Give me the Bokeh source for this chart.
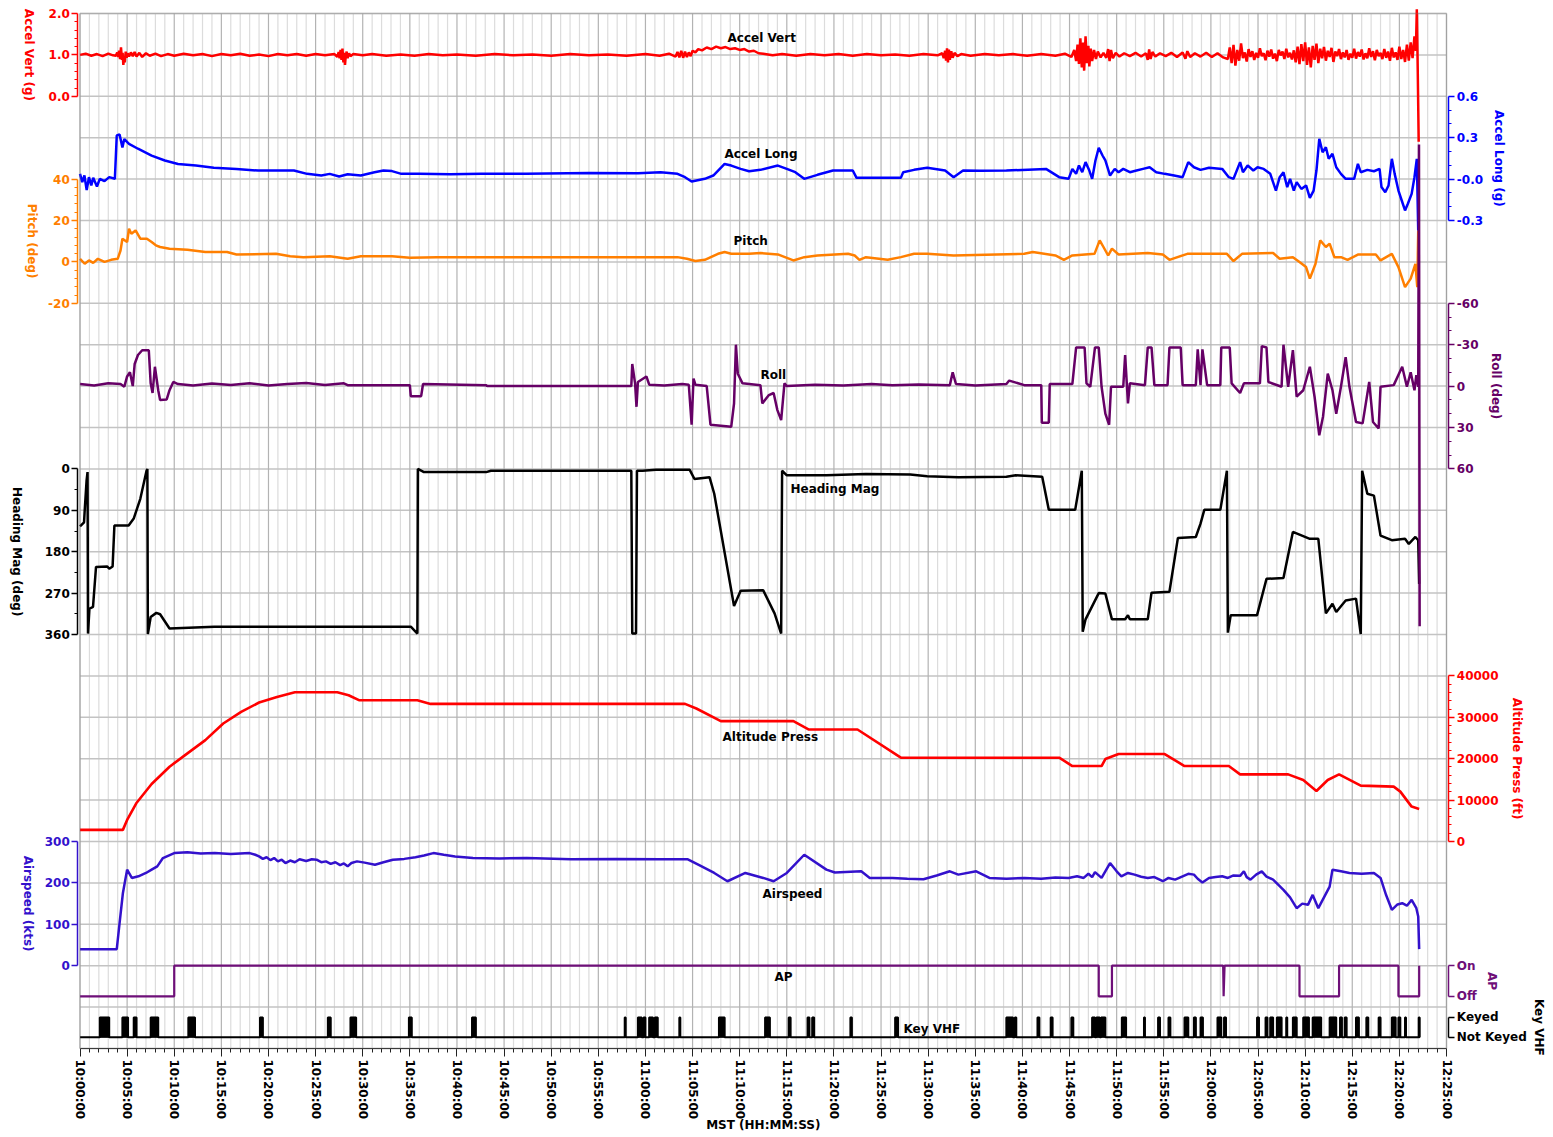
import math
from bokeh.plotting import figure
from bokeh.models import Range1d, LinearAxis, FixedTicker, Grid, Label, BoxAnnotation
from bokeh.embed import file_html
from bokeh.resources import INLINE

# ---------------- data (time in minutes after 10:00:00 MST) ----------------
TIME_TICK_LABELS = ["10:00:00", "10:05:00", "10:10:00", "10:15:00", "10:20:00", "10:25:00",
                    "10:30:00", "10:35:00", "10:40:00", "10:45:00", "10:50:00", "10:55:00",
                    "11:00:00", "11:05:00", "11:10:00", "11:15:00", "11:20:00", "11:25:00",
                    "11:30:00", "11:35:00", "11:40:00", "11:45:00", "11:50:00", "11:55:00",
                    "12:00:00", "12:05:00", "12:10:00", "12:15:00", "12:20:00", "12:25:00"]

ACCEL_VERT = [(0, 1.00), (0.6, 1.03), (1.2, 0.98), (1.8, 1.02), (2.4, 0.97), (3.0, 1.03), (3.5, 0.99), (3.8, 0.98),
              (3.95, 1.06), (4.05, 0.95), (4.15, 1.10), (4.25, 0.90), (4.35, 1.18), (4.45, 0.88), (4.52, 1.05),
              (4.6, 0.76), (4.68, 0.95), (4.75, 0.82), (4.85, 1.08), (4.95, 0.93), (5.05, 1.04), (5.2, 0.96),
              (5.4, 1.06), (5.6, 0.97), (5.8, 1.07), (6.0, 0.96), (6.3, 1.05), (6.6, 0.95), (7.0, 1.04), (7.4, 0.98),
              (8.0, 1.03), (8.6, 0.97), (9.3, 1.02), (10, 0.98), (11, 1.03), (12, 0.99), (13, 1.02), (14, 0.97),
              (15, 1.02), (16, 0.99), (17, 1.03), (18, 0.98), (19, 1.01), (20, 0.97), (21, 1.02), (22, 0.99),
              (23, 1.02), (24, 0.98), (25, 1.02), (26, 0.99), (27.0, 1.02), (27.3, 0.95), (27.45, 1.07),
              (27.55, 0.92), (27.65, 1.12), (27.75, 0.88), (27.85, 1.15), (27.95, 0.82), (28.05, 1.05),
              (28.12, 0.76), (28.2, 0.98), (28.3, 1.08), (28.4, 0.92), (28.55, 1.04), (28.7, 0.97), (29.0, 1.02),
              (30, 0.99), (31, 1.02), (32.5, 0.98), (34, 1.01), (35.5, 0.98), (37, 1.02), (38.5, 0.99), (40, 1.01),
              (42, 0.98), (44, 1.02), (46, 0.99), (48, 1.01), (50, 0.98), (52, 1.02), (54, 0.99), (56, 1.01),
              (58, 0.98), (60, 1.02), (61.5, 0.98), (62.5, 1.03), (63.2, 0.96), (63.4, 1.07), (63.6, 0.94),
              (63.8, 1.10), (64.0, 0.93), (64.2, 1.08), (64.4, 0.95), (64.6, 1.06), (64.8, 0.97), (65.0, 1.10),
              (65.3, 1.06), (65.6, 1.14), (66.0, 1.11), (66.5, 1.18), (67.0, 1.14), (67.5, 1.20), (68.0, 1.16),
              (68.5, 1.19), (69.0, 1.14), (69.5, 1.16), (70.0, 1.12), (70.5, 1.14), (71.0, 1.08), (71.5, 1.10),
              (72.0, 1.04), (72.5, 1.03), (73.5, 0.99), (74.5, 1.02), (76, 0.98), (77.5, 1.02), (79, 0.99),
              (80.5, 1.02), (82, 0.98), (83.5, 1.02), (85, 0.99), (86.5, 1.01), (88, 0.98), (89.5, 1.02), (91, 0.99),
              (91.5, 1.04), (91.65, 0.92), (91.8, 1.10), (91.9, 0.86), (92.0, 1.16), (92.1, 0.82), (92.2, 1.13),
              (92.3, 0.88), (92.45, 1.09), (92.6, 0.93), (92.8, 1.05), (93.1, 0.97), (93.5, 1.02), (94.5, 0.98),
              (96, 1.02), (97.5, 0.99), (99, 1.02), (100.5, 0.98), (102, 1.02), (103.5, 0.98), (104.5, 1.03),
              (105.2, 0.95), (105.5, 1.12), (105.7, 0.85), (105.85, 1.25), (106.0, 0.78), (106.15, 1.40),
              (106.3, 0.70), (106.45, 1.30), (106.55, 0.62), (106.7, 1.45), (106.85, 0.80), (107.0, 1.22),
              (107.1, 0.72), (107.25, 1.15), (107.4, 0.85), (107.6, 1.12), (107.8, 0.90), (108.0, 1.08),
              (108.3, 0.94), (108.6, 1.05), (108.9, 0.93), (109.1, 1.14), (109.25, 0.85), (109.4, 1.12),
              (109.6, 0.92), (109.9, 1.05), (110.3, 0.96), (110.8, 1.04), (111.4, 0.97), (112.0, 1.05),
              (112.6, 0.96), (113.1, 1.04), (113.3, 0.88), (113.45, 1.13), (113.6, 0.90), (113.8, 1.07),
              (114.1, 0.96), (114.6, 1.04), (115.2, 0.97), (115.8, 1.05), (116.4, 0.95), (117.0, 1.06),
              (117.3, 0.91), (117.5, 1.09), (117.8, 0.95), (118.3, 1.04), (118.9, 0.96), (119.5, 1.05),
              (120.1, 0.95), (120.7, 1.04), (121.3, 0.94), (121.8, 0.90), (122.0, 1.18), (122.2, 0.80),
              (122.4, 1.24), (122.6, 0.74), (122.8, 1.12), (123.0, 0.86), (123.2, 1.28), (123.4, 0.92),
              (123.6, 1.06), (123.8, 0.84), (124.0, 1.14), (124.2, 0.95), (124.4, 1.09), (124.6, 0.88),
              (124.8, 1.05), (125.0, 0.93), (125.2, 1.16), (125.4, 0.97), (125.6, 1.04), (125.8, 0.87),
              (126.0, 1.10), (126.2, 0.96), (126.4, 1.13), (126.6, 0.91), (126.8, 1.03), (127.0, 0.85),
              (127.2, 1.12), (127.4, 0.99), (127.6, 1.08), (127.8, 0.90), (128.0, 1.15), (128.2, 0.94),
              (128.4, 1.05), (128.6, 0.89), (128.8, 1.11), (129.0, 0.82), (129.2, 1.20), (129.4, 0.78),
              (129.6, 1.26), (129.8, 0.85), (130.0, 1.30), (130.2, 0.76), (130.4, 1.18), (130.6, 0.70),
              (130.8, 1.22), (131.0, 0.88), (131.2, 1.27), (131.4, 0.80), (131.6, 1.15), (131.8, 0.92),
              (132.0, 1.19), (132.2, 0.86), (132.4, 1.10), (132.6, 0.95), (132.8, 1.17), (133.0, 0.83),
              (133.2, 1.08), (133.4, 0.97), (133.6, 1.14), (133.8, 0.90), (134.0, 1.06), (134.2, 0.94),
              (134.4, 1.12), (134.6, 0.88), (134.8, 1.03), (135.0, 0.93), (135.2, 1.15), (135.4, 0.91),
              (135.6, 1.07), (135.8, 0.96), (136.0, 1.13), (136.2, 0.89), (136.4, 1.04), (136.6, 0.92),
              (136.8, 1.16), (137.0, 0.95), (137.2, 1.09), (137.4, 0.87), (137.6, 1.12), (137.8, 0.97),
              (138.0, 1.05), (138.2, 0.90), (138.4, 1.14), (138.6, 0.93), (138.8, 1.08), (139.0, 0.86),
              (139.2, 1.17), (139.4, 0.94), (139.6, 1.06), (139.8, 0.88), (140.0, 1.20), (140.2, 0.90),
              (140.4, 1.12), (140.6, 0.83), (140.8, 1.25), (141.0, 0.86), (141.2, 1.30), (141.4, 0.92),
              (141.6, 1.45), (141.75, 1.1), (141.85, 2.1), (141.95, 0.6), (142.05, -1.1)]

ACCEL_LONG = [(0, 0.038), (0.24, -0.022), (0.47, 0.026), (0.71, -0.08), (0.95, 0.014), (1.2, -0.046),
              (1.4, 0.01), (1.8, -0.054), (2.1, 0.002), (2.6, -0.015), (3.1, 0.014), (3.7, 0.002), (3.9, 0.316),
              (4.2, 0.323), (4.5, 0.23), (4.7, 0.29), (5.2, 0.255), (6.15, 0.22), (7.6, 0.17), (9.0, 0.135),
              (10.4, 0.11), (12.3, 0.098), (14.2, 0.082), (16.6, 0.074), (18.9, 0.062), (22.7, 0.062),
              (24.1, 0.038), (25.6, 0.026), (26.5, 0.038), (27.5, 0.019), (28.4, 0.035), (29.8, 0.026),
              (31.25, 0.05), (32.2, 0.062), (33.1, 0.058), (34.1, 0.038), (36.0, 0.038), (39.3, 0.036),
              (42.6, 0.038), (47.3, 0.038), (54.0, 0.045), (59.2, 0.043), (61.6, 0.05), (63.4, 0.038),
              (64.2, 0.014), (64.9, -0.018), (66.3, 0.002), (67.2, 0.026), (68.4, 0.11), (69.1, 0.098),
              (70.1, 0.074), (71.0, 0.057), (72.2, 0.067), (74.05, 0.098), (75.0, 0.074), (75.9, 0.05),
              (76.85, 0.002), (78.25, 0.031), (79.9, 0.062), (82.0, 0.062), (82.4, 0.009), (87.1, 0.009),
              (87.35, 0.05), (88.5, 0.067), (89.9, 0.082), (91.8, 0.062), (92.7, 0.014), (93.7, 0.062),
              (95.5, 0.06), (98.3, 0.062), (102.5, 0.074), (103.9, 0.014), (104.9, 0.002), (105.3, 0.074),
              (105.7, 0.038), (106.0, 0.099), (106.35, 0.050), (106.7, 0.123), (107.1, 0.062), (107.4, 0.002),
              (107.75, 0.135), (108.1, 0.227), (108.5, 0.171), (108.8, 0.135), (109.3, 0.026), (109.8, 0.074),
              (110.2, 0.050), (110.7, 0.074), (111.4, 0.050), (112.1, 0.062), (112.8, 0.074), (113.5, 0.086),
              (114.2, 0.050), (115.1, 0.038), (116.1, 0.026), (117.0, 0.014), (117.6, 0.123), (118.2, 0.086),
              (118.9, 0.067), (119.8, 0.082), (121.2, 0.074), (121.9, 0.014), (122.4, 0.002), (123.1, 0.123),
              (123.4, 0.050), (123.9, 0.099), (124.5, 0.062), (124.95, 0.086), (125.6, 0.074), (126.3, 0.038),
              (126.9, -0.083), (127.3, 0.014), (127.7, 0.050), (128.1, -0.058), (128.4, 0.002), (128.8, -0.083),
              (129.1, -0.022), (129.6, -0.071), (130.1, -0.046), (130.5, -0.136), (130.9, -0.083), (131.2, 0.062),
              (131.5, 0.292), (131.85, 0.195), (132.2, 0.231), (132.5, 0.147), (132.9, 0.183), (133.3, 0.086),
              (133.8, 0.038), (134.3, 0.002), (135.2, 0.002), (135.6, 0.111), (135.9, 0.050), (136.6, 0.067),
              (137.3, 0.057), (137.9, 0.074), (138.1, -0.058), (138.5, -0.095), (138.85, -0.046), (139.2, 0.147),
              (139.5, 0.038), (139.9, -0.083), (140.25, -0.155), (140.6, -0.227), (140.9, -0.179),
              (141.3, -0.107), (141.6, 0.014), (141.85, 0.147), (142.0, -0.372)]

PITCH = [(0, 1.5), (0.5, -0.9), (0.95, 0.7), (1.4, -0.5), (1.9, 1.5), (2.6, 0), (3.3, 1), (4.0, 1.5), (4.3, 5.5),
         (4.5, 11.2), (5.0, 9.6), (5.2, 16), (5.45, 13.6), (5.9, 15.2), (6.4, 11.2), (7.1, 11.2), (7.6, 9.6),
         (8.05, 8), (8.5, 7.2), (9.5, 6.4), (11.4, 5.9), (13.3, 4.8), (15.6, 4.8), (16.6, 3.6), (20.8, 3.9),
         (22.3, 2.7), (23.7, 2.3), (26.5, 2.7), (28.4, 1.5), (29.8, 2.7), (33.1, 2.7), (35.0, 2.0), (37.9, 2.3),
         (47.3, 2.3), (63.4, 2.3), (64.4, 1.5), (65.3, 0.4), (66.3, 1.0), (67.7, 3.9), (68.4, 4.8), (69.1, 3.9),
         (71.0, 3.9), (72.2, 4.3), (74.05, 3.6), (75.7, 0.7), (76.85, 2.3), (78.25, 3.1), (81.5, 3.9), (82.2, 3.1),
         (82.7, 1), (83.4, 2.3), (85.7, 1), (87.1, 2.3), (88.5, 3.9), (89.9, 3.9), (92.7, 3.1), (100.2, 3.9),
         (101.1, 4.8), (103.5, 3.1), (104.4, 1.0), (105.3, 3.1), (107.65, 3.9), (108.2, 10.4), (108.6, 7.2),
         (109.1, 3.1), (109.5, 6.4), (110.2, 3.6), (113.3, 4.3), (114.9, 3.6), (115.6, 1), (117.5, 3.9),
         (121.7, 3.9), (122.4, 0.4), (123.3, 3.9), (126.6, 4.3), (127.3, 1.5), (128.7, 2.3), (129.4, 0),
         (130.1, -2.5), (130.5, -8.1), (131.1, -0.9), (131.6, 10.4), (132.2, 7.2), (132.6, 8.8), (133.1, 2.3),
         (133.8, 2.3), (134.5, 1), (135.65, 3.6), (137.5, 3.6), (138.0, 0.7), (139.2, 3.9), (139.9, -2.5),
         (140.6, -12.2), (141.2, -8.1), (141.7, -0.9), (141.9, -12.2), (142.0, 15.2)]

ROLL = [(0, -1.5), (1.5, -0.5), (3, -2), (4.3, -1.5), (4.7, 0.5), (5.0, -7), (5.3, -10), (5.6, 0), (5.8, -16),
        (6.15, -22.5), (6.6, -26), (7.3, -26), (7.5, -2), (7.7, 5), (7.95, -14), (8.3, 3), (8.5, 10), (9.2, 9.7),
        (9.5, 3), (9.9, -3), (10.4, -1.5), (12, -0.5), (14, -1.8), (16, -0.8), (18, -2), (20, -0.5), (22, -1.5),
        (24, -2.2), (26, -0.8), (28, -2), (28.4, -0.7), (35.0, -0.7), (35.1, 7.3), (36.2, 7.3), (36.4, -1.5),
        (43.1, -0.7), (43.2, 0), (58.5, 0), (58.6, -16), (58.9, -2), (59.05, 15), (59.2, -3), (60.1, -7),
        (60.4, -1), (62, -0.5), (63.9, -1.5), (64.6, -1), (64.9, 28), (65.1, -5.5), (65.3, -1), (66.5, 0),
        (66.9, 28), (69.1, 29.5), (69.4, 12.6), (69.6, -30), (69.8, -9), (70.3, -2), (72.2, -0.7), (72.4, 12.6),
        (73.1, 6.5), (73.6, 5), (74.0, 17.4), (74.4, 24.7), (74.75, -2), (75.0, 0), (78, -1), (81, -0.5),
        (84, -1.5), (86.2, -0.7), (89, -1.2), (92.3, -0.7), (92.6, -10), (92.95, -1.5), (95, -0.5), (98.3, -1.5),
        (98.6, -4), (100.2, -0.7), (102.0, -0.7), (102.06, 26.6), (102.8, 26.6), (102.9, -1.5), (105.3, -1.5),
        (105.7, -28), (106.6, -28), (106.8, -2), (107.2, 0.5), (107.7, -28), (108.1, -28), (108.4, 0.5),
        (108.8, 20), (109.2, 28), (109.4, 0.5), (110.7, 0.5), (110.9, -22.5), (111.2, 12.6), (111.4, -2),
        (113.0, -0.7), (113.3, -28), (113.7, -28), (114.0, -0.7), (115.4, -0.7), (115.6, -28), (116.8, -28),
        (117.0, -0.7), (118.4, -0.7), (118.6, -26.6), (118.9, -0.7), (119.1, -26.6), (119.6, -0.7),
        (121.0, -0.7), (121.1, -28), (122.0, -28), (122.2, -2), (123.1, 5), (123.5, -2), (125.2, -2),
        (125.4, -29), (125.9, -28), (126.1, -3), (127.5, 0.5), (127.7, -30), (128.2, 0.5), (128.7, -26),
        (129.1, 7.7), (129.8, 3), (130.5, -14), (131.0, 7.7), (131.5, 35.6), (131.9, 22), (132.4, -9),
        (132.9, 3), (133.3, 20), (133.8, 0.5), (134.3, -21), (134.7, 0.5), (135.4, 26), (136.1, 27),
        (136.8, -3), (137.2, 26), (137.8, 30.7), (138.0, 0.5), (139.4, -0.7), (140.3, -14), (140.8, 0.5),
        (141.2, -10), (141.6, 3), (141.8, -8), (142.0, 0.5), (142.08, -175), (142.15, 174)]

HEADING = [(0, 125), (0.43, 116), (0.5, 90), (0.7, 25), (0.8, 7), (0.85, 358), (1.0, 304), (1.38, 300),
           (1.7, 213), (2.9, 212), (3.1, 217), (3.46, 212), (3.65, 123), (5.16, 123), (5.7, 108), (6.4, 65),
           (7.06, 4), (7.15, 0), (7.2, 359), (7.5, 322), (8.1, 313), (8.5, 316), (9.5, 347), (14.25, 343),
           (20.9, 343), (28.5, 343), (35.1, 343), (35.8, 358), (35.85, 0), (36.5, 7), (43.1, 7), (43.6, 4),
           (58.5, 4), (58.6, 358), (59.0, 358), (59.1, 4), (59.7, 4), (61.1, 2), (64.7, 2), (65.2, 22),
           (66.8, 18), (67.3, 54), (69.4, 298), (70.1, 265), (72.5, 264), (73.7, 314), (74.4, 358), (74.5, 4),
           (75.0, 14), (79.2, 14), (83.4, 11), (88.1, 12), (89.9, 16), (93.2, 18), (98.3, 17), (99.3, 14),
           (102.1, 17), (102.8, 89), (105.6, 89), (106.3, 4), (106.4, 354), (106.7, 327), (108.1, 270),
           (108.8, 271), (109.5, 327), (110.9, 327), (111.2, 318), (111.4, 327), (113.3, 327), (113.7, 269),
           (115.6, 267), (116.5, 150), (118.4, 148), (118.9, 119), (119.3, 89), (121.0, 89), (121.7, 4),
           (121.8, 356), (122.1, 318), (124.9, 318), (125.9, 239), (127.7, 237), (128.7, 137), (130.5, 152),
           (131.4, 152), (132.2, 314), (132.9, 293), (133.3, 311), (134.3, 286), (135.4, 282), (135.9, 359),
           (136.05, 4), (136.6, 54), (137.3, 58), (138.0, 145), (139.2, 155), (140.6, 152), (141.0, 163),
           (141.7, 148), (142.0, 155), (142.1, 250)]

ALTITUDE = [(0, 2810), (4.55, 2810), (5.0, 5220), (5.97, 9230), (7.6, 13900), (9.5, 18070), (11.4, 21280),
            (13.3, 24490), (15.2, 28500), (17.1, 31300), (19.0, 33570), (20.9, 34930), (22.8, 36050),
            (27.3, 36050), (28.5, 35330), (29.6, 34130), (35.8, 34130), (37.2, 33240), (64.2, 33240),
            (65.4, 32120), (68.0, 29070), (75.7, 29070), (77.3, 27060), (82.5, 27060), (87.1, 20240),
            (103.9, 20240), (105.3, 18230), (108.4, 18230), (108.8, 19910), (110.2, 21120), (115.1, 21120),
            (117.2, 18230), (121.9, 18230), (123.1, 16220), (128.2, 16220), (129.8, 14860), (131.2, 12210),
            (132.4, 14860), (133.6, 16220), (135.9, 13490), (139.4, 13250), (140.1, 12050), (141.3, 8430),
            (142.1, 7870)]

AIRSPEED = [(0, 40), (3.9, 40), (4.2, 103), (4.55, 175), (5.0, 232), (5.5, 212), (6.2, 216), (7.0, 224),
            (7.6, 232), (8.2, 240), (8.8, 260), (9.4, 266), (10.0, 272), (11.4, 274), (12.8, 271), (14.3, 272),
            (16.0, 270), (18.0, 272), (18.6, 268), (19.0, 264), (19.4, 258), (19.8, 262), (20.2, 255),
            (20.6, 260), (21.0, 252), (21.4, 256), (21.8, 248), (22.3, 254), (22.8, 250), (23.3, 257),
            (24.0, 253), (24.6, 257), (25.1, 256), (25.6, 250), (26.1, 252), (26.6, 246), (27.1, 250),
            (27.6, 243), (28.0, 247), (28.4, 240), (28.8, 248), (29.4, 252), (30.2, 249), (31.3, 244),
            (32.2, 250), (33.2, 256), (34.4, 258), (35.6, 262), (36.5, 266), (37.5, 272), (38.6, 268),
            (39.8, 264), (41.7, 260), (44.5, 259), (47.4, 260), (52.1, 257), (56.8, 258), (61.6, 257),
            (64.5, 257), (65.6, 244), (67.3, 224), (68.7, 204), (70.6, 224), (72.5, 212), (73.6, 204),
            (75.0, 224), (76.85, 268), (79.2, 232), (80.1, 225), (82.9, 228), (83.8, 212), (86.2, 212),
            (87.8, 210), (89.5, 209), (90.9, 218), (92.3, 228), (93.2, 220), (95.1, 228), (96.5, 212),
            (98.3, 210), (100.2, 212), (102.0, 210), (103.5, 213), (104.9, 212), (105.8, 216), (106.5, 212),
            (107.0, 222), (107.4, 214), (107.7, 226), (108.4, 212), (109.3, 248), (110.0, 228), (110.5, 216),
            (111.2, 224), (111.9, 220), (112.6, 215), (113.3, 212), (114.0, 214), (114.9, 204), (115.5, 212),
            (116.2, 208), (117.0, 216), (117.6, 222), (118.2, 220), (118.6, 210), (119.1, 201), (119.8, 212),
            (120.5, 214), (121.2, 216), (121.8, 212), (122.4, 218), (123.1, 217), (123.5, 228), (123.8, 214),
            (124.2, 208), (124.8, 220), (125.4, 228), (125.9, 215), (126.6, 208), (127.7, 183), (128.4, 165),
            (129.1, 139), (129.7, 150), (130.3, 147), (130.8, 171), (131.4, 139), (132.0, 165), (132.6, 191),
            (132.9, 232), (133.8, 228), (134.7, 224), (136.0, 222), (137.3, 224), (138.0, 212), (138.6, 170),
            (139.2, 135), (139.8, 148), (140.3, 151), (140.8, 145), (141.3, 159), (141.8, 139), (142.0, 119),
            (142.1, 40)]

AP_STATE = [(0, 0), (10.0, 0), (10.0, 1), (108.1, 1), (108.1, 0), (109.5, 0), (109.5, 1), (121.3, 1),
            (121.35, 0), (121.45, 1), (129.4, 1), (129.4, 0), (133.6, 0), (133.6, 1), (139.9, 1), (139.9, 0),
            (142.1, 0), (142.1, 1)]

KEY_VHF_INTERVALS = [(2.1, 3.1), (4.5, 5.1), (5.7, 6.0), (7.5, 8.3), (11.5, 12.2), (19.1, 19.4), (26.3, 26.6),
                     (28.7, 29.3), (34.9, 35.2), (41.6, 42.0), (57.8, 57.9), (59.2, 59.6), (59.8, 60.0),
                     (60.4, 60.8), (61.0, 61.3), (63.6, 63.7), (67.8, 68.4), (72.7, 73.2), (75.2, 75.4),
                     (77.2, 77.4), (77.7, 77.9), (81.75, 81.9), (86.5, 86.8), (98.3, 99.0), (99.2, 99.35),
                     (101.6, 101.8), (103.0, 103.2), (105.2, 105.4), (107.4, 107.7), (107.85, 108.2),
                     (108.35, 108.8), (110.55, 111.0), (112.9, 113.0), (114.4, 114.6), (115.5, 115.7),
                     (117.2, 117.6), (118.2, 118.4), (118.9, 119.15), (120.7, 121.1), (121.4, 121.6),
                     (124.9, 125.1), (125.8, 126.0), (126.3, 126.6), (127.0, 127.5), (128.0, 128.1),
                     (128.7, 129.1), (129.8, 130.4), (130.8, 131.7), (132.6, 133.3), (133.7, 133.9),
                     (134.2, 134.4), (135.4, 135.7), (136.5, 136.7), (137.8, 138.0), (139.2, 139.6),
                     (139.9, 140.1), (140.6, 140.7), (142.05, 142.15)]
KEY_VHF_END = 142.2

# ---------------- layout (pixels of the 1553 x 1137 page) ----------------
W, H = 1553, 1137
PL, PR, PT, PB = 79.5, 1446.0, 13.0, 1048.0     # data area edges
T_SPAN, N_ROWS = 145.0, 25                      # minutes shown, grid rows
PX_MIN = (PR - PL) / T_SPAN
PX_ROW = (PB - PT) / N_ROWS


def t_of(px):
    return (px - PL) / PX_MIN


def g_of(py):
    return (py - PT) / PX_ROW


G_TOP, G_BOT = g_of(0), g_of(H)
FONT = "DejaVu Sans"

p = figure(width=W, height=H, output_backend="svg", toolbar_location=None, title_location=None,
           x_range=Range1d(t_of(0), t_of(W)), y_range=Range1d(G_BOT, G_TOP), y_axis_location=None,
           min_border=0, min_border_left=0, min_border_right=0, min_border_top=0, min_border_bottom=0)
p.background_fill_color = "white"
p.border_fill_color = "white"
p.outline_line_color = None
p.center = [c for c in p.center if not isinstance(c, Grid)]

# grid lines of the data area
major_x = list(range(0, 146, 5))
minor_x = [m for m in range(0, 146) if m % 5 != 0]
rows = list(range(0, N_ROWS + 1))
p.segment(x0=minor_x, x1=minor_x, y0=[0] * len(minor_x), y1=[N_ROWS] * len(minor_x),
          line_color="#dcdcdc", line_width=1.2)
p.segment(x0=[0] * len(rows), x1=[T_SPAN] * len(rows), y0=rows, y1=rows,
          line_color="#c3c3c3", line_width=1.5)
p.segment(x0=major_x, x1=major_x, y0=[0] * len(major_x), y1=[N_ROWS] * len(major_x),
          line_color="#b3b3b3", line_width=1.2)

# x axis
xa = p.xaxis[0]
xa.fixed_location = N_ROWS
xa.bounds = (0, T_SPAN)
xa.ticker = FixedTicker(ticks=major_x, minor_ticks=minor_x)
xa.major_label_overrides = {t: lab for t, lab in zip(major_x, TIME_TICK_LABELS)}
xa.major_label_orientation = "vertical"
xa.axis_line_color = "#222222"
xa.major_tick_line_color = "#222222"
xa.minor_tick_line_color = "#222222"
xa.major_tick_out = 8
xa.major_tick_in = 0
xa.minor_tick_out = 4
xa.minor_tick_in = 0
xa.major_label_standoff = 3
xa.major_label_text_font = FONT
xa.major_label_text_font_style = "bold"
xa.major_label_text_font_size = "12px"
xa.major_label_text_color = "black"


def band_range(v0, g0, v1, g1):
    slope = (v1 - v0) / (g1 - g0)
    return Range1d(start=v0 + (G_BOT - g0) * slope, end=v0 + (G_TOP - g0) * slope)


BANDS = {
    "av": (2.0, 0, 0.0, 2),
    "al": (0.6, 2, -0.3, 5),
    "pitch": (40, 4, -20, 7),
    "roll": (-60, 7, 60, 11),
    "hdg": (0, 11, 360, 15),
    "alt": (40000, 16, 0, 20),
    "as": (300, 20, 0, 23),
    "ap": (1, 23.0, 0, 23.74),
    "key": (1, 24.25, 0, 24.73),
}
p.extra_y_ranges = {k: band_range(*v) for k, v in BANDS.items()}


def add_axis(name, side, color, label, ticks, labels, minor, label_px):
    ax = LinearAxis(y_range_name=name,
                    ticker=FixedTicker(ticks=ticks, minor_ticks=minor),
                    major_label_overrides={t: s for t, s in zip(ticks, labels)},
                    bounds=(min(ticks), max(ticks)),
                    fixed_location=t_of(77.3 if side == "left" else 1448.3))
    ax.axis_line_color = color
    ax.axis_line_width = 1.5
    ax.major_tick_line_color = color
    ax.major_tick_line_width = 1.5
    ax.minor_tick_line_color = color
    ax.minor_tick_line_width = 1.2
    ax.major_tick_out = 6
    ax.major_tick_in = 0
    ax.minor_tick_out = 3
    ax.minor_tick_in = 0
    ax.major_label_standoff = 2
    ax.major_label_text_color = color
    ax.major_label_text_font = FONT
    ax.major_label_text_font_style = "bold"
    ax.major_label_text_font_size = "12px"
    p.add_layout(ax, side)
    v0, g0, v1, g1 = BANDS[name]
    p.add_layout(Label(x=t_of(label_px), y=(g0 + g1) / 2, text=label, angle=-math.pi / 2,
                       text_font=FONT, text_font_style="bold", text_font_size="12px",
                       text_color=color, text_align="center", text_baseline="middle"))


RED, BLUE, ORANGE, PURPLE, BLACK, VIOLET, APC = "#ff0000", "#0000ff", "#ff7f00", "#660066", "#000000", "#3311cc", "#6e0f78"

add_axis("av", "left", RED, "Accel Vert (g)", [0.0, 1.0, 2.0], ["0.0", "1.0", "2.0"],
         [0.2, 0.4, 0.6, 0.8, 1.2, 1.4, 1.6, 1.8], 28)
add_axis("al", "right", BLUE, "Accel Long (g)", [-0.3, 0.0, 0.3, 0.6], ["-0.3", "-0.0", "0.3", "0.6"],
         [-0.2, -0.1, 0.1, 0.2, 0.4, 0.5], 1498.5)
add_axis("pitch", "left", ORANGE, "Pitch (deg)", [-20, 0, 20, 40], ["-20", "0", "20", "40"],
         [-16, -12, -8, -4, 4, 8, 12, 16, 24, 28, 32, 36], 31)
add_axis("roll", "right", PURPLE, "Roll (deg)", [-60, -30, 0, 30, 60], ["-60", "-30", "0", "30", "60"],
         [-50, -40, -20, -10, 10, 20, 40, 50], 1495)
add_axis("hdg", "left", BLACK, "Heading Mag (deg)", [0, 90, 180, 270, 360], ["0", "90", "180", "270", "360"],
         [45, 135, 225, 315], 16.5)
add_axis("alt", "right", RED, "Altitude Press (ft)", [0, 10000, 20000, 30000, 40000],
         ["0", "10000", "20000", "30000", "40000"],
         [2000, 4000, 6000, 8000, 12000, 14000, 16000, 18000, 22000, 24000, 26000, 28000,
          32000, 34000, 36000, 38000], 1516)
add_axis("as", "left", VIOLET, "Airspeed (kts)", [0, 100, 200, 300], ["0", "100", "200", "300"], [], 27)
add_axis("ap", "right", APC, "AP", [0, 1], ["Off", "On"], [], 1491)
add_axis("key", "right", BLACK, "Key VHF", [0, 1], ["Not Keyed", "Keyed"], [], 1538.5)

p.add_layout(Label(x=T_SPAN / 2, y=g_of(1124), text="MST (HH:MM:SS)", text_font=FONT,
                   text_font_style="bold", text_font_size="12px", text_color="black",
                   text_align="center", text_baseline="middle"))

# ---------------- traces ----------------
key_t, key_v = [0.0], [0]
for s, e in KEY_VHF_INTERVALS:
    key_t += [s, s, e, e]
    key_v += [0, 1, 1, 0]
key_t.append(KEY_VHF_END)
key_v.append(0)
p.quad(left=[s for s, _ in KEY_VHF_INTERVALS], right=[e for _, e in KEY_VHF_INTERVALS],
       bottom=0, top=1, y_range_name="key", fill_color=BLACK, line_color=BLACK, line_width=1)
p.line(key_t, key_v, y_range_name="key", line_color=BLACK, line_width=2)


def draw(series, name, color, width=2.5):
    ts = [a for a, _ in series]
    vs = [b for _, b in series]
    p.line(ts, vs, y_range_name=name, line_color=color, line_width=width)


draw(AP_STATE, "ap", APC, 2.2)
draw(AIRSPEED, "as", VIOLET)
draw(ALTITUDE, "alt", RED, 2.6)
draw(HEADING, "hdg", BLACK)
draw(PITCH, "pitch", ORANGE)
draw(ACCEL_LONG, "al", BLUE)
draw(ACCEL_VERT, "av", RED)
draw(ROLL, "roll", PURPLE)

# frame of the data area
p.add_layout(BoxAnnotation(left=0, right=T_SPAN, top=0, bottom=N_ROWS, fill_color=None,
                           line_color="#7a7a7a", line_width=1.5))

# trace name labels
for txt, px, py in [("Accel Vert", 727, 37), ("Accel Long", 724, 153), ("Pitch", 733, 240),
                    ("Roll", 760, 374), ("Heading Mag", 790, 488), ("Altitude Press", 722, 736),
                    ("Airspeed", 762, 893), ("AP", 774, 976), ("Key VHF", 903, 1028)]:
    p.add_layout(Label(x=t_of(px), y=g_of(py), text=txt, text_font=FONT, text_font_style="bold",
                       text_font_size="12px", text_color="black", text_align="left",
                       text_baseline="middle"))

open("out.html", "w").write(file_html(p, INLINE))
